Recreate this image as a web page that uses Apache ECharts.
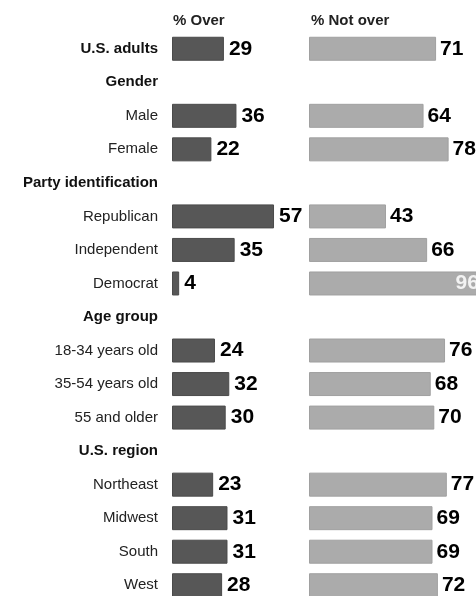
<!DOCTYPE html>
<html>
<head>
<meta charset="utf-8">
<script src="https://cdn.jsdelivr.net/npm/echarts@6/dist/echarts.min.js"></script>
<style>
html,body{margin:0;padding:0;background:#fff;overflow:hidden;}
#chart{width:476px;height:596px;}
</style>
</head>
<body>
<div id="chart"></div>
<script>
const categories = ['U.S. adults','Gender','Male','Female','Party identification','Republican','Independent','Democrat','Age group','18-34 years old','35-54 years old','55 and older','U.S. region','Northeast','Midwest','South','West'];
const headerRows = ['U.S. adults','Gender','Party identification','Age group','U.S. region'];
const overValues = [29,null,36,22,null,57,35,4,null,24,32,30,null,23,31,31,28];
const notOverValues = [71,null,64,78,null,43,66,96,null,76,68,70,null,77,69,69,72];
const columnTitles = ['% Over','% Not over'];

const chart = echarts.init(document.getElementById('chart'), null, {renderer:'canvas'});
const valueFont = "'Liberation Sans Narrow','Liberation Sans',Arial,sans-serif";
const textFont = "'Liberation Sans',Arial,sans-serif";

const gridTop = 32, gridHeight = 570;

chart.setOption({
  animation:false,
  backgroundColor:'#ffffff',
  title:[
    {text:columnTitles[0], left:168, top:8, textStyle:{fontFamily:textFont, fontSize:15, fontWeight:'bold', color:'#222'}},
    {text:columnTitles[1], left:306, top:8, textStyle:{fontFamily:textFont, fontSize:15, fontWeight:'bold', color:'#222'}}
  ],
  grid:[
    {left:172, top:gridTop, width:179, height:gridHeight, containLabel:false, outerBoundsMode:'none'},
    {left:309, top:gridTop, width:179, height:gridHeight, containLabel:false, outerBoundsMode:'none'}
  ],
  xAxis:[
    {type:'value', gridIndex:0, min:0, max:100, show:false},
    {type:'value', gridIndex:1, min:0, max:100, show:false}
  ],
  yAxis:[
    {type:'category', gridIndex:0, data:categories, inverse:true,
     axisLine:{show:false}, axisTick:{show:false}, splitLine:{show:false},
     axisLabel:{
       margin:14,
       formatter:function(v){ return headerRows.indexOf(v) >= 0 ? '{h|' + v + '}' : '{n|' + v + '}'; },
       rich:{
         h:{fontFamily:textFont, fontSize:15, fontWeight:'bold', color:'#111'},
         n:{fontFamily:textFont, fontSize:15, color:'#222'}
       }
     }},
    {type:'category', gridIndex:1, data:categories, inverse:true, show:false}
  ],
  series:[
    {type:'bar', xAxisIndex:0, yAxisIndex:0, data:overValues, barWidth:24,
     itemStyle:{color:'#575757', borderColor:'#4a4a4a', borderWidth:1},
     label:{show:true, position:'right', distance:5, color:'#000',
            fontFamily:valueFont, fontWeight:'bold', fontSize:21}},
    {type:'bar', xAxisIndex:1, yAxisIndex:1, barWidth:24,
     data:notOverValues.map(function(v){
       return (v !== null && v >= 90) ? {value:v, label:{position:'insideRight', distance:0, offset:[-2,0], color:'#f2f2f2'}} : v;
     }),
     itemStyle:{color:'#ababab', borderColor:'#a0a0a0', borderWidth:1},
     label:{show:true, position:'right', distance:4, color:'#000',
            fontFamily:valueFont, fontWeight:'bold', fontSize:21}}
  ]
});
</script>
</body>
</html>
